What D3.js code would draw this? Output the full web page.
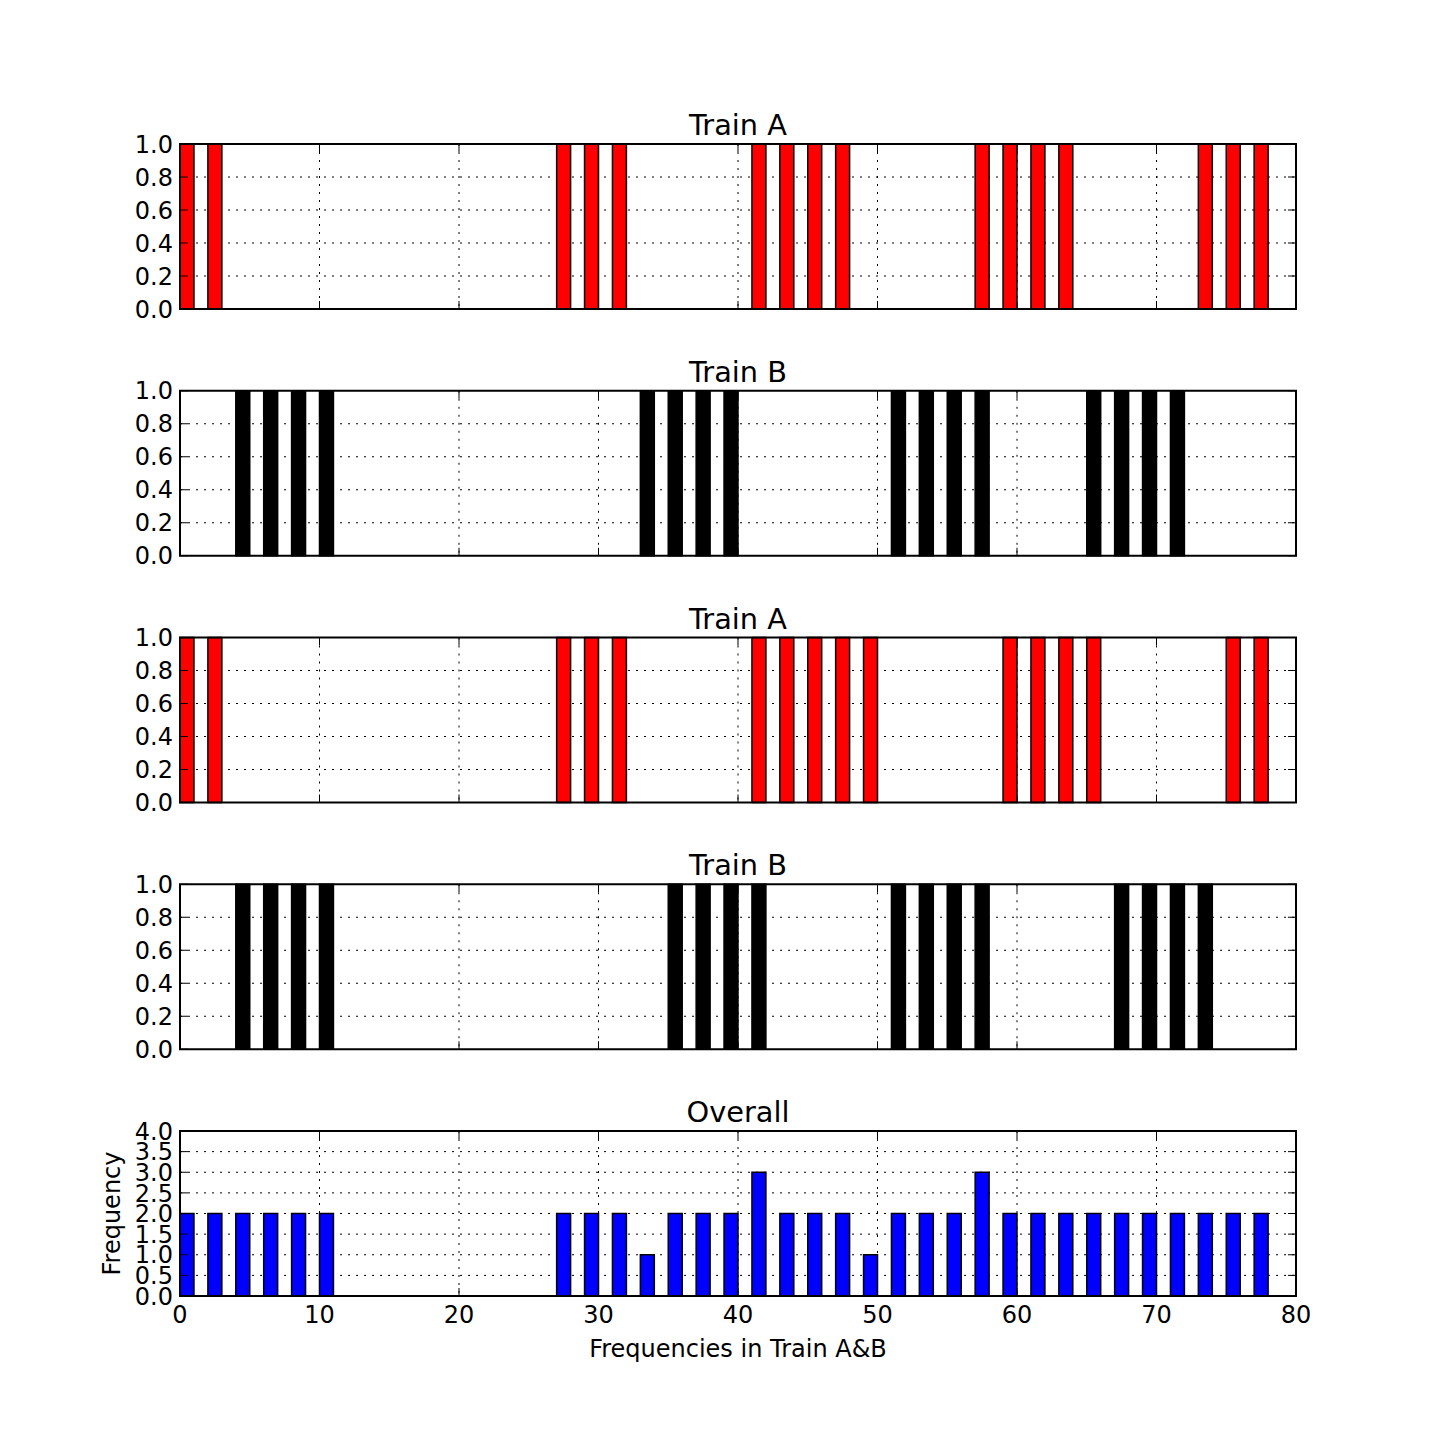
<!DOCTYPE html>
<html>
<head>
<meta charset="utf-8">
<script src="https://cdn.jsdelivr.net/npm/d3@7"></script>
<style>
html,body{margin:0;padding:0;background:#fff;}
svg{display:block;font-family:"DejaVu Sans",sans-serif;}
</style>
</head>
<body>
<svg id="chart" width="1440" height="1440"></svg>
<script>
// ---- data ----
const xTicks = [0, 10, 20, 30, 40, 50, 60, 70, 80];
const unitYTicks = [0.0, 0.2, 0.4, 0.6, 0.8, 1.0];
const overallYTicks = [0.0, 0.5, 1.0, 1.5, 2.0, 2.5, 3.0, 3.5, 4.0];

const trainA1 = [0, 2, 27, 29, 31, 41, 43, 45, 47, 57, 59, 61, 63, 73, 75, 77];
const trainB1 = [4, 6, 8, 10, 33, 35, 37, 39, 51, 53, 55, 57, 65, 67, 69, 71];
const trainA2 = [0, 2, 27, 29, 31, 41, 43, 45, 47, 49, 59, 61, 63, 65, 75, 77];
const trainB2 = [4, 6, 8, 10, 35, 37, 39, 41, 51, 53, 55, 57, 67, 69, 71, 73];

const overallX = [0, 2, 4, 6, 8, 10, 27, 29, 31, 33, 35, 37, 39, 41, 43, 45, 47, 49, 51, 53, 55, 57, 59, 61, 63, 65, 67, 69, 71, 73, 75, 77];
const overallY = [2, 2, 2, 2, 2, 2, 2, 2, 2, 1, 2, 2, 2, 3, 2, 2, 2, 1, 2, 2, 2, 3, 2, 2, 2, 2, 2, 2, 2, 2, 2, 2];

const panels = [
  {title: "Train A", xs: trainA1, ys: trainA1.map(() => 1), color: "#ff0000", yMax: 1, yTicks: unitYTicks},
  {title: "Train B", xs: trainB1, ys: trainB1.map(() => 1), color: "#000000", yMax: 1, yTicks: unitYTicks},
  {title: "Train A", xs: trainA2, ys: trainA2.map(() => 1), color: "#ff0000", yMax: 1, yTicks: unitYTicks},
  {title: "Train B", xs: trainB2, ys: trainB2.map(() => 1), color: "#000000", yMax: 1, yTicks: unitYTicks},
  {title: "Overall", xs: overallX, ys: overallY, color: "#0000ff", yMax: 4, yTicks: overallYTicks, last: true}
];

// ---- layout ----
const svg = d3.select("#chart");
const left = 180, right = 1296;
const firstTop = 144, panelH = 165, step = 246.75;
const x = d3.scaleLinear().domain([0, 80]).range([left, right]);
const barW = 1;

panels.forEach((p, i) => {
  const top = firstTop + i * step;
  const bottom = top + panelH;
  const y = d3.scaleLinear().domain([0, p.yMax]).range([bottom, top]);
  const g = svg.append("g");

  // grid
  g.append("g").selectAll("line.gx").data(xTicks.slice(1, -1)).join("line")
    .attr("x1", d => x(d)).attr("x2", d => x(d))
    .attr("y1", top).attr("y2", bottom)
    .attr("stroke", "#000").attr("stroke-width", 1).attr("stroke-dasharray", "2,6");
  g.append("g").selectAll("line.gy").data(p.yTicks.slice(1, -1)).join("line")
    .attr("x1", left).attr("x2", right)
    .attr("y1", d => y(d)).attr("y2", d => y(d))
    .attr("stroke", "#000").attr("stroke-width", 1).attr("stroke-dasharray", "2,6");

  // bars
  g.append("g").selectAll("rect").data(p.xs.map((v, k) => [v, p.ys[k]])).join("rect")
    .attr("x", d => x(d[0]))
    .attr("width", d => x(d[0] + barW) - x(d[0]))
    .attr("y", d => y(d[1]))
    .attr("height", d => y(0) - y(d[1]))
    .attr("fill", p.color)
    .attr("stroke", "#000").attr("stroke-width", 1.5);

  // ticks (inside, all four sides)
  const tk = 8;
  g.append("g").selectAll("line").data(xTicks).join("line")
    .attr("x1", d => x(d)).attr("x2", d => x(d)).attr("y1", bottom).attr("y2", bottom - tk)
    .attr("stroke", "#000").attr("stroke-width", 1);
  g.append("g").selectAll("line").data(xTicks).join("line")
    .attr("x1", d => x(d)).attr("x2", d => x(d)).attr("y1", top).attr("y2", top + tk)
    .attr("stroke", "#000").attr("stroke-width", 1);
  g.append("g").selectAll("line").data(p.yTicks).join("line")
    .attr("x1", left).attr("x2", left + tk).attr("y1", d => y(d)).attr("y2", d => y(d))
    .attr("stroke", "#000").attr("stroke-width", 1);
  g.append("g").selectAll("line").data(p.yTicks).join("line")
    .attr("x1", right).attr("x2", right - tk).attr("y1", d => y(d)).attr("y2", d => y(d))
    .attr("stroke", "#000").attr("stroke-width", 1);

  // frame
  g.append("rect").attr("x", left).attr("y", top).attr("width", right - left).attr("height", panelH)
    .attr("fill", "none").attr("stroke", "#000").attr("stroke-width", 2);

  // y tick labels
  g.append("g").selectAll("text").data(p.yTicks).join("text")
    .attr("x", left - 7).attr("y", d => y(d)).attr("dy", "0.36em")
    .attr("text-anchor", "end").attr("font-size", 24).text(d => d.toFixed(1));

  // title
  g.append("text").attr("x", (left + right) / 2).attr("y", top - 9)
    .attr("text-anchor", "middle").attr("font-size", 28.8).text(p.title);

  if (p.last) {
    g.append("g").selectAll("text").data(xTicks).join("text")
      .attr("x", d => x(d)).attr("y", bottom + 27)
      .attr("text-anchor", "middle").attr("font-size", 24).text(d => d);
    g.append("text").attr("x", (left + right) / 2).attr("y", bottom + 61)
      .attr("text-anchor", "middle").attr("font-size", 24).text("Frequencies in Train A&B");
    g.append("text").attr("transform", `translate(120,${(top + bottom) / 2}) rotate(-90)`)
      .attr("text-anchor", "middle").attr("font-size", 24).text("Frequency");
  }
});
</script>
</body>
</html>
